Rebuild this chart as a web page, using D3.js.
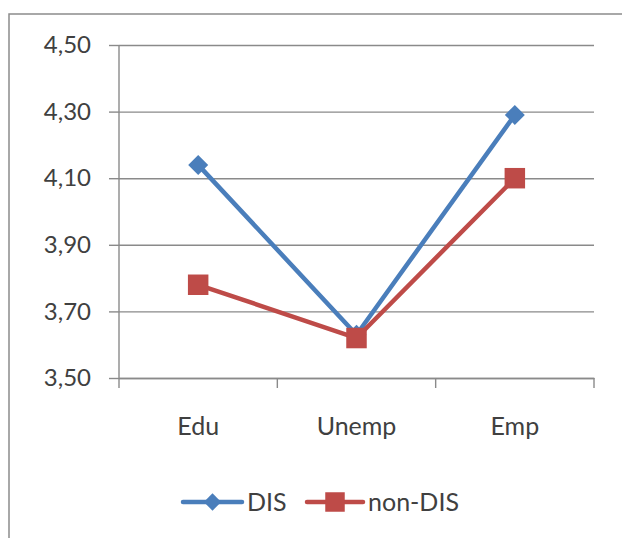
<!DOCTYPE html>
<style>
  body { margin: 0; background: #fff; }
  svg { display: block; }
  text { font-family: Lato, "Liberation Sans", sans-serif; fill: #404040; }
  .grid line { stroke: #8a8a8a; stroke-width: 1.4; }
  .axis path, .axis line { stroke: #8a8a8a; stroke-width: 1.4; }
</style>
<body>
</body>
<script src="https://cdn.jsdelivr.net/npm/d3@7"></script>
<script>
  const categories = ['Edu', 'Unemp', 'Emp'];
  const seriesNames = ['DIS', 'non-DIS'];
  const dis = [4.14, 3.63, 4.29];
  const nonDis = [3.78, 3.62, 4.10];
  const yTicks = [3.50, 3.70, 3.90, 4.10, 4.30, 4.50];

  const w = 622, h = 538;
  const l = 119, r = 594, t = 45, b = 378;
  const colors = ['#4a7ebb', '#be4b48'];

  const svg = d3.select('body').append('svg')
    .attr('width', w)
    .attr('height', h);

  // outer chart border, runs off right and bottom edges
  svg.append('rect')
    .attr('x', 9).attr('y', 14)
    .attr('width', w).attr('height', h)
    .attr('fill', '#fff')
    .attr('stroke', '#8c8c8c').attr('stroke-width', 1.5);

  const x = d3.scaleBand().domain(categories).range([l, r]).padding(0);
  const y = d3.scaleLinear().domain([3.5, 4.5]).range([b, t]);
  const fmt = d3.formatLocale({decimal: ',', thousands: '.', grouping: [3], currency: ['', '']}).format('.2f');

  // gridlines
  svg.append('g')
    .attr('class', 'grid')
    .attr('transform', `translate(${l}, 0)`)
    .call(d3.axisLeft(y).tickValues(yTicks).tickSize(-(r - l)).tickFormat(''))
    .call(g => g.select('.domain').remove());

  // y axis
  svg.append('g')
    .attr('class', 'axis')
    .attr('transform', `translate(${l}, 0)`)
    .call(d3.axisLeft(y).tickValues(yTicks).tickSize(10).tickPadding(18).tickFormat(fmt).tickSizeOuter(0))
    .call(g => g.selectAll('text').style('font-size', '24px').attr('fill', '#404040'))
    .call(g => g.select('.domain').attr('d', `M0,${t}V${b + 10}`));

  // x axis
  const xg = svg.append('g')
    .attr('class', 'axis')
    .attr('transform', `translate(0, ${b})`)
    .call(d3.axisBottom(x).tickSize(0).tickPadding(39).tickSizeOuter(0))
    .call(g => g.selectAll('text').style('font-size', '25px').attr('fill', '#404040'));
  xg.selectAll('.bound')
    .data(categories)
    .join('line')
    .attr('class', 'bound')
    .attr('x1', d => x(d) + x.bandwidth()).attr('x2', d => x(d) + x.bandwidth())
    .attr('y1', 0).attr('y2', 10);

  const line = d3.line()
    .x((d, i) => x(categories[i]) + x.bandwidth() / 2)
    .y(d => y(d));

  const diamond = d3.symbol().type(d3.symbolSquare).size(200);
  const square = d3.symbol().type(d3.symbolSquare).size(420);

  const series = [
    {name: seriesNames[0], values: dis, color: colors[0], sym: diamond, rot: 45},
    {name: seriesNames[1], values: nonDis, color: colors[1], sym: square, rot: 0},
  ];

  series.forEach(s => {
    const g = svg.append('g');
    g.append('path')
      .attr('d', line(s.values))
      .attr('fill', 'none')
      .attr('stroke', s.color)
      .attr('stroke-width', 4.5)
      .attr('stroke-linejoin', 'round');
    g.selectAll('path.mark')
      .data(s.values)
      .join('path')
      .attr('class', 'mark')
      .attr('d', s.sym())
      .attr('fill', s.color)
      .attr('transform', (d, i) => `translate(${x(categories[i]) + x.bandwidth() / 2}, ${y(d)}) rotate(${s.rot})`);
  });

  // legend
  const legendPos = [{x0: 183, x1: 242, tx: 247}, {x0: 307, x1: 363, tx: 368}];
  const ly = 502;
  series.forEach((s, i) => {
    const p = legendPos[i];
    const g = svg.append('g');
    g.append('line')
      .attr('x1', p.x0).attr('x2', p.x1)
      .attr('y1', ly).attr('y2', ly)
      .attr('stroke', s.color)
      .attr('stroke-width', 4.5)
      .attr('stroke-linecap', 'round');
    g.append('path')
      .attr('d', i === 0 ? d3.symbol().type(d3.symbolSquare).size(150)() : d3.symbol().type(d3.symbolSquare).size(380)())
      .attr('fill', s.color)
      .attr('transform', `translate(${(p.x0 + p.x1) / 2}, ${ly}) rotate(${s.rot})`);
    g.append('text')
      .attr('x', p.tx)
      .attr('y', ly)
      .attr('dy', '0.35em')
      .style('font-size', '25px')
      .text(s.name);
  });
</script>
